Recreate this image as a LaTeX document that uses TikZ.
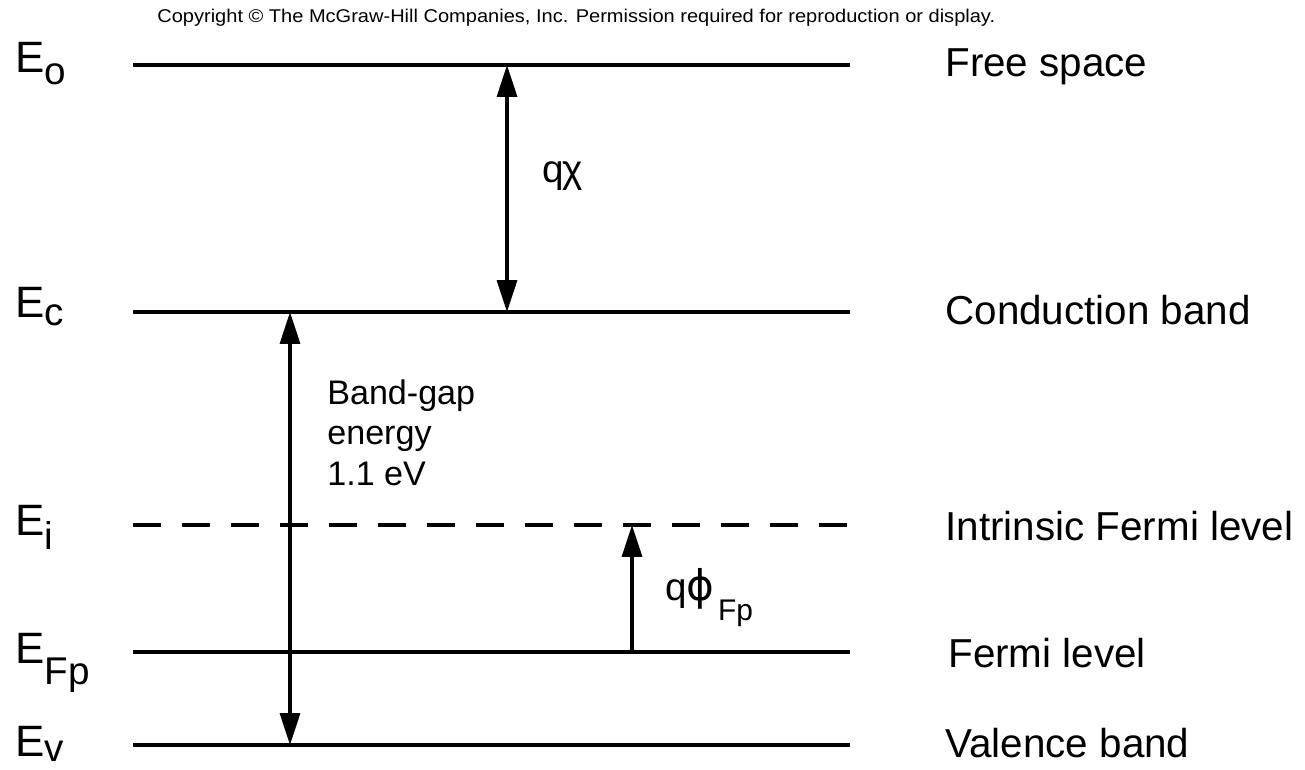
\documentclass[tikz,border=0pt]{standalone}
\usepackage{fontspec}
\usepackage{graphicx}
\setmainfont{Liberation Sans}
\newfontfamily\grk{DejaVu Sans}
\usetikzlibrary{arrows.meta}

\tikzset{
  level/.style = {line width=2.3pt},
  midlevel/.style = {level, dash pattern=on 0.57cm off 0.41cm},
  gap/.style = {line width=1.9pt, >={Triangle[length=0.64cm,width=0.4cm]}},
  elabel/.style = {anchor=base west, inner sep=0, font=\fontsize{25}{25}\selectfont},
  rlabel/.style = {anchor=base west, inner sep=0, font=\fontsize{23}{23}\selectfont},
}
\newcommand{\lsub}[2]{\raisebox{-#1}{\fontsize{22}{22}\selectfont #2}}

\begin{document}
\begin{tikzpicture}[x=0.02cm, y=-0.02cm]
\useasboundingbox (0,0) rectangle (1305,770);

\node[anchor=base west, inner sep=0, font=\fontsize{10.5}{11}\selectfont] (copy) at (157,23)
  {\resizebox{16.76cm}{\height}{Copyright \textcopyright{} The McGraw-Hill Companies, Inc. Permission required for reproduction or display.}};

%levels
\draw[level] (133,65) -- (850,65);
\draw[level] (133,312) -- (850,312);
\draw[midlevel] (133,525) -- (850,525);
\draw[level] (133,652) -- (850,652);
\draw[level] (133,745) -- (850,745);

%arrow ends
\coordinate (chitop) at (507,65);
\coordinate (chibot) at (507,312);
\coordinate (gaptop) at (290,312);
\coordinate (gapbot) at (290,745);
\coordinate (phitop) at (632,525);
\coordinate (phibot) at (632,652);

\draw[gap,<->] (chitop) -- (chibot);
\draw[gap,<->] (gaptop) -- (gapbot);
\draw[gap,->] (phibot) -- (phitop);

%left labels
\node[elabel] (Eo) at (15,73) {E\lsub{0.24cm}{o}};
\node[elabel] (Ec) at (15,317) {E\lsub{0.18cm}{c}};
\node[elabel] (Ei) at (15,535) {E\lsub{0.3cm}{i}};
\node[elabel] (Efp) at (15,663) {E\lsub{0.44cm}{Fp}};
\node[elabel] (Ev) at (15,756) {E\lsub{0.1cm}{v}};

%right labels
\node[rlabel] (free) at (945,77) {Free space};
\node[rlabel] (cond) at (945,324) {Conduction band};
\node[rlabel] (intr) at (945,540) {Intrinsic Fermi level};
\node[rlabel] (ferm) at (948,667) {Fermi level};
\node[rlabel] (val) at (945,757) {Valence band};

%arrow labels
\node[anchor=base west, inner sep=0, font=\fontsize{22}{22}\selectfont] (chi) at (542,183) {q\kern-1ptχ};
\node[anchor=base west, inner sep=0, font=\fontsize{22}{22}\selectfont] (phi) at (665,600)
  {q{\grk\fontsize{24}{24}\selectfont ϕ}\kern2pt\raisebox{-0.42cm}{\fontsize{17}{17}\selectfont Fp}};
\node[anchor=north west, inner sep=0, align=left, font=\fontsize{19.4}{23.3}\selectfont] (bg) at (327,379)
  {Band-gap\\energy\\1.1 eV};

\end{tikzpicture}
\end{document}
